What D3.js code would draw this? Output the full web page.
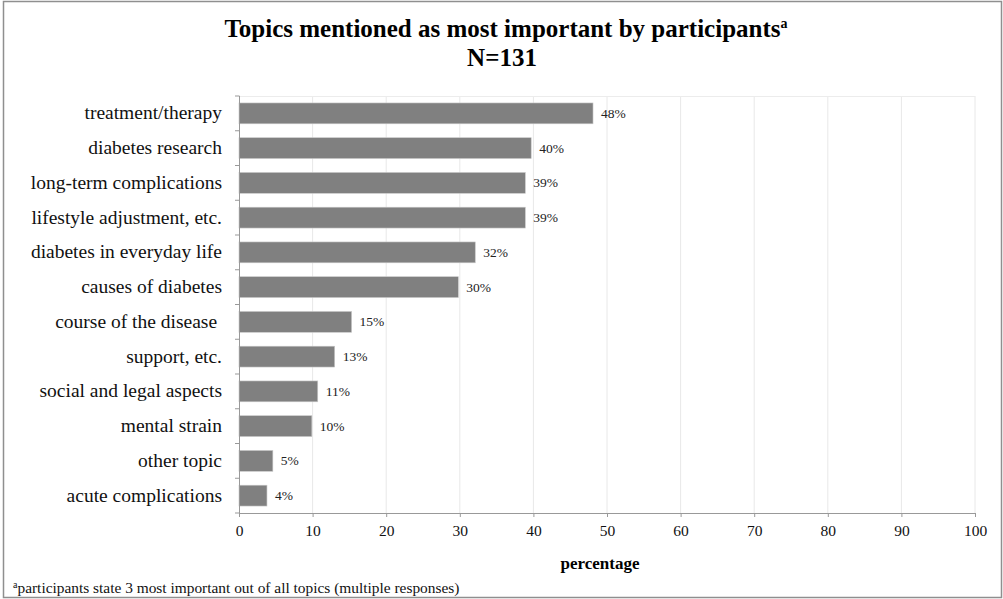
<!DOCTYPE html>
<html><head><meta charset="utf-8">
<script src="https://cdn.jsdelivr.net/npm/d3@7"></script>
<style>body{margin:0;background:#fff}svg{display:block}</style>
</head><body>
<svg id="c" width="1003" height="599"></svg>
<script>
const categories = ["treatment/therapy","diabetes research","long-term complications","lifestyle adjustment, etc.","diabetes in everyday life","causes of diabetes","course of the disease ","support, etc.","social and legal aspects","mental strain","other topic","acute complications"];
const values = [48.1, 39.7, 38.9, 38.9, 32.1, 29.8, 15.3, 13.0, 10.7, 9.9, 4.6, 3.8];
const valueLabels = ["48%","40%","39%","39%","32%","30%","15%","13%","11%","10%","5%","4%"];
const xTicks = [0,10,20,30,40,50,60,70,80,90,100];

const svg = d3.select("#c");
const font = "'Liberation Serif','Times New Roman',serif";
const L = 239, R = 975, T = 96, B = 513;

svg.append("rect").attr("x",3.5).attr("y",1.5).attr("width",998).attr("height",596)
  .attr("fill","#fff").attr("stroke","#8f8f8f").attr("stroke-width",1.5);

const x = d3.scaleLinear().domain([0,100]).range([L,R]);
const y = d3.scaleBand().domain(categories).range([T,B]).paddingInner(0.4).paddingOuter(0.2);

// gridlines
svg.append("g").selectAll("line").data(xTicks.slice(1)).join("line")
  .attr("x1",d=>x(d)).attr("x2",d=>x(d)).attr("y1",T).attr("y2",B)
  .attr("stroke","#e8e8e8").attr("stroke-width",1);
svg.append("line").attr("x1",L).attr("x2",R).attr("y1",T+0.5).attr("y2",T+0.5).attr("stroke","#ececec");

// bars
svg.append("g").selectAll("rect").data(values).join("rect")
  .attr("x",x(0)).attr("y",(d,i)=>y(categories[i]))
  .attr("width",d=>x(d)-x(0)).attr("height",y.bandwidth())
  .attr("fill","#808080").attr("stroke","#c8c8c8").attr("stroke-width",0.6);

// value labels
svg.append("g").selectAll("text").data(values).join("text")
  .attr("x",d=>x(d)+8).attr("y",(d,i)=>y(categories[i])+y.bandwidth()/2+4.5)
  .attr("font-family",font).attr("font-size",13.5).attr("fill","#222")
  .text((d,i)=>valueLabels[i]);

// y axis
const yAxisBand = d3.scaleBand().domain(categories).range([T,B]);
const ya = svg.append("g").attr("transform",`translate(${L},0)`);
ya.append("line").attr("x1",0.5).attr("x2",0.5).attr("y1",T).attr("y2",B).attr("stroke","#999");
ya.selectAll("line.t").data(d3.range(categories.length+1)).join("line").attr("class","t")
  .attr("x1",-4).attr("x2",0.5).attr("y1",i=>T+i*yAxisBand.step()).attr("y2",i=>T+i*yAxisBand.step())
  .attr("stroke","#999");
ya.selectAll("text").data(categories).join("text")
  .attr("x",-17).attr("y",d=>y(d)+y.bandwidth()/2+6)
  .attr("text-anchor","end").attr("font-family",font).attr("font-size",19.5).attr("fill","#111")
  .attr("xml:space","preserve").style("white-space","pre")
  .text(d=>d);

// x axis
const xa = svg.append("g").attr("transform",`translate(0,${B})`)
  .call(d3.axisBottom(x).tickValues(xTicks).tickSize(4).tickSizeOuter(0).tickFormat(d3.format("d")));
xa.select(".domain").attr("stroke","#999");
xa.selectAll(".tick line").attr("stroke","#999");
xa.selectAll("text").attr("font-family",font).attr("font-size",15.5).attr("fill","#111").attr("dy","1.0em");

svg.append("text").attr("x",600).attr("y",569).attr("text-anchor","middle")
  .attr("font-family",font).attr("font-size",17).attr("font-weight","bold").text("percentage");

// title
const t1 = svg.append("text").attr("x",506).attr("y",37).attr("text-anchor","middle")
  .attr("font-family",font).attr("font-size",25).attr("font-weight","bold").attr("fill","#000");
t1.append("tspan").text("Topics mentioned as most important by participants");
t1.append("tspan").attr("dy",-9).attr("font-size",14).text("a");
svg.append("text").attr("x",502).attr("y",66).attr("text-anchor","middle")
  .attr("font-family",font).attr("font-size",25).attr("font-weight","bold").attr("fill","#000").text("N=131");

// footnote
const f = svg.append("text").attr("x",13).attr("y",593).attr("font-family",font).attr("font-size",15.4).attr("fill","#111");
f.append("tspan").attr("font-size",10).attr("dy",-5).text("a");
f.append("tspan").attr("dy",5).text("participants state 3 most important out of all topics (multiple responses)");
</script>
</body></html>
